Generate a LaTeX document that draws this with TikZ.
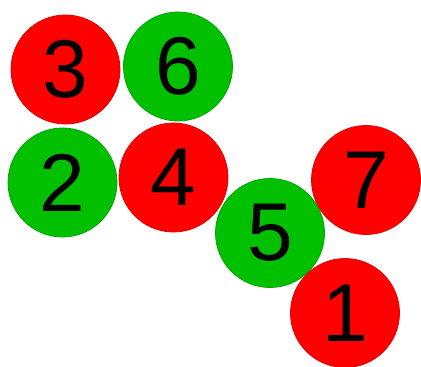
\documentclass[tikz,border=0pt]{standalone}
\usepackage{fontspec}
\setmainfont{Liberation Sans}
\definecolor{cred}{RGB}{255,0,0}
\definecolor{credb}{RGB}{225,0,0}
\definecolor{cgreen}{RGB}{0,192,0}
\definecolor{cgreenb}{RGB}{0,165,0}
\begin{document}
\begin{tikzpicture}[x=1pt,y=-1pt,
  ball/.style={circle,minimum size=109pt,inner sep=0pt,line width=0.8pt,
    font=\fontsize{82}{82}\selectfont,text=black},
  redball/.style={ball,fill=cred,draw=credb},
  greenball/.style={ball,fill=cgreen,draw=cgreenb}]
\useasboundingbox (0,0) rectangle (421,367);
\node[redball]   (n3) at (65.5,69.5) {3};
\node[greenball] (n6) at (178,66.5) {6};
\node[greenball] (n2) at (62.5,182.5) {2};
\node[redball]   (n4) at (173.5,177.5) {4};
\node[greenball] (n5) at (270,233) {5};
\node[redball]   (n7) at (366,180) {7};
\node[redball]   (n1) at (345,313) {1};
\end{tikzpicture}
\end{document}
